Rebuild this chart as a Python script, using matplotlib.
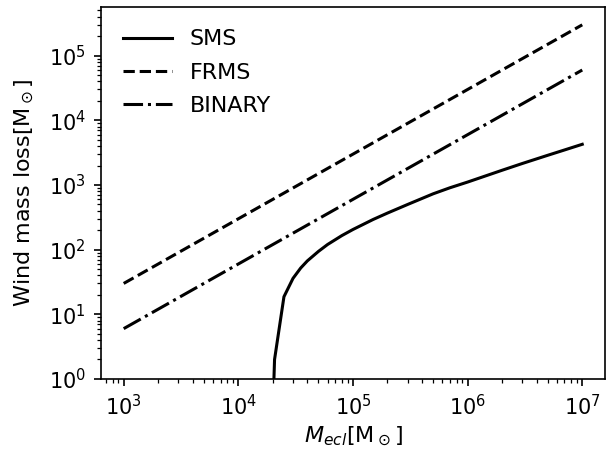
import matplotlib
matplotlib.use("Agg")
import matplotlib.pyplot as plt
import numpy as np

# cluster mass grid and wind mass loss for each channel [Msun]
m_ecl = [1e3, 1e5, 1e7]
frms_loss = [30, 3e3, 3e5]
binary_loss = [6, 600, 6e4]

m_sms = [2.0e4, 2.07e4, 2.5e4, 3e4, 3.5e4, 4e4, 5e4, 6e4, 8e4, 1e5, 1.5e5,
         2e5, 3e5, 5e5, 7e5, 1e6, 2e6, 3e6, 5e6, 7e6, 1e7]
sms_loss = [0.3, 2.0, 18.7, 36, 52, 67, 94, 120, 165, 205, 293,
            368, 500, 730, 905, 1110, 1690, 2150, 2880, 3480, 4260]

fs = 16

fig = plt.figure(figsize=(6.07, 4.49), dpi=100)
ax = fig.add_axes([0.166, 0.156, 0.831, 0.828])

ax.plot(m_sms, sms_loss, "k-", lw=2.2, label="SMS")
ax.plot(m_ecl, frms_loss, "k--", lw=2.2, label="FRMS")
ax.plot(m_ecl, binary_loss, "k-.", lw=2.2, label="BINARY")

ax.set_xscale("log")
ax.set_yscale("log")
ax.set_xlim(10**2.8, 10**7.2)
ax.set_ylim(1, 10**5.75)

ax.set_xlabel(r"$M_{ecl}[\mathrm{M}_\odot]$", fontsize=fs)
ax.set_ylabel(r"Wind mass loss[$\mathrm{M}_\odot$]", fontsize=fs, labelpad=9)
ax.tick_params(which="major", labelsize=15, length=5.2, width=1.2, pad=5.5)
ax.tick_params(which="minor", length=3, width=0.9)
for sp in ax.spines.values():
    sp.set_linewidth(1.2)
ax.legend(loc="upper left", frameon=False, fontsize=fs,
          handlelength=2.2, labelspacing=0.6, borderaxespad=0.6)

fig.savefig("out.png", dpi=100)
